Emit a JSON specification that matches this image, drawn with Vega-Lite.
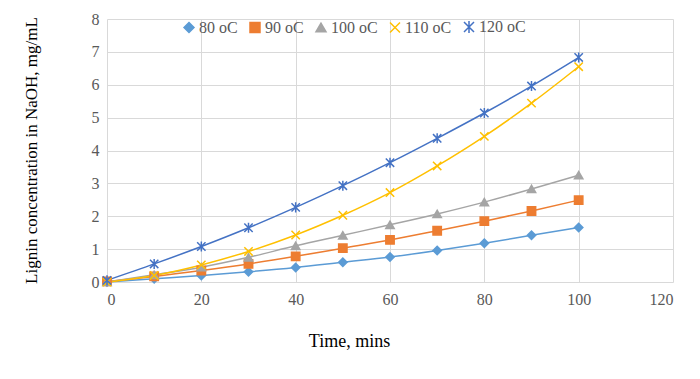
{
  "$schema": "https://vega.github.io/schema/vega-lite/v6.json",
  "width": 566,
  "height": 263,
  "autosize": {"type": "none"},
  "padding": {"left": 107, "top": 19, "right": 27, "bottom": 97},
  "background": "white",
  "config": {
    "font": "Liberation Serif",
    "view": {"stroke": null},
    "axis": {"labelFont": "Liberation Serif", "titleFont": "Liberation Serif", "labelColor": "#595959", "labelFontSize": 16, "titleColor": "#000000", "titleFontWeight": "normal", "gridColor": "#D9D9D9", "gridWidth": 1, "domain": false, "ticks": false},
    "legend": {"labelFont": "Liberation Serif", "labelFontSize": 16, "labelColor": "#595959"}
  },
  "data": {
    "values": [
      {"t": 0, "s": "80 oC", "v": 0.0}, {"t": 10, "s": "80 oC", "v": 0.1}, {"t": 20, "s": "80 oC", "v": 0.2}, {"t": 30, "s": "80 oC", "v": 0.31}, {"t": 40, "s": "80 oC", "v": 0.44}, {"t": 50, "s": "80 oC", "v": 0.6}, {"t": 60, "s": "80 oC", "v": 0.76}, {"t": 70, "s": "80 oC", "v": 0.96}, {"t": 80, "s": "80 oC", "v": 1.18}, {"t": 90, "s": "80 oC", "v": 1.42}, {"t": 100, "s": "80 oC", "v": 1.66},
      {"t": 0, "s": "90 oC", "v": 0.02}, {"t": 10, "s": "90 oC", "v": 0.17}, {"t": 20, "s": "90 oC", "v": 0.35}, {"t": 30, "s": "90 oC", "v": 0.55}, {"t": 40, "s": "90 oC", "v": 0.78}, {"t": 50, "s": "90 oC", "v": 1.03}, {"t": 60, "s": "90 oC", "v": 1.28}, {"t": 70, "s": "90 oC", "v": 1.56}, {"t": 80, "s": "90 oC", "v": 1.85}, {"t": 90, "s": "90 oC", "v": 2.16}, {"t": 100, "s": "90 oC", "v": 2.49},
      {"t": 0, "s": "100 oC", "v": 0.0}, {"t": 10, "s": "100 oC", "v": 0.22}, {"t": 20, "s": "100 oC", "v": 0.45}, {"t": 30, "s": "100 oC", "v": 0.75}, {"t": 40, "s": "100 oC", "v": 1.1}, {"t": 50, "s": "100 oC", "v": 1.42}, {"t": 60, "s": "100 oC", "v": 1.74}, {"t": 70, "s": "100 oC", "v": 2.07}, {"t": 80, "s": "100 oC", "v": 2.43}, {"t": 90, "s": "100 oC", "v": 2.83}, {"t": 100, "s": "100 oC", "v": 3.25},
      {"t": 0, "s": "110 oC", "v": 0.0}, {"t": 10, "s": "110 oC", "v": 0.2}, {"t": 20, "s": "110 oC", "v": 0.52}, {"t": 30, "s": "110 oC", "v": 0.93}, {"t": 40, "s": "110 oC", "v": 1.43}, {"t": 50, "s": "110 oC", "v": 2.03}, {"t": 60, "s": "110 oC", "v": 2.72}, {"t": 70, "s": "110 oC", "v": 3.53}, {"t": 80, "s": "110 oC", "v": 4.43}, {"t": 90, "s": "110 oC", "v": 5.44}, {"t": 100, "s": "110 oC", "v": 6.55},
      {"t": 0, "s": "120 oC", "v": 0.05}, {"t": 10, "s": "120 oC", "v": 0.55}, {"t": 20, "s": "120 oC", "v": 1.08}, {"t": 30, "s": "120 oC", "v": 1.65}, {"t": 40, "s": "120 oC", "v": 2.27}, {"t": 50, "s": "120 oC", "v": 2.93}, {"t": 60, "s": "120 oC", "v": 3.63}, {"t": 70, "s": "120 oC", "v": 4.37}, {"t": 80, "s": "120 oC", "v": 5.14}, {"t": 90, "s": "120 oC", "v": 5.96}, {"t": 100, "s": "120 oC", "v": 6.83}
    ]
  },
  "encoding": {
    "x": {"field": "t", "type": "quantitative", "scale": {"domain": [0, 120], "nice": false}, "axis": {"values": [0, 20, 40, 60, 80, 100, 120], "title": "Time, mins", "titleFont": "Liberation Serif", "labelFont": "Liberation Serif", "titleFontSize": 18, "labelPadding": 9, "titleX": 242, "titleY": 59, "titleBaseline": "middle", "titleAnchor": null}},
    "y": {"field": "v", "type": "quantitative", "scale": {"domain": [0, 8], "nice": false}, "axis": {"values": [0, 1, 2, 3, 4, 5, 6, 7, 8], "title": "Lignin concentration in NaOH, mg/mL", "titleFont": "Liberation Serif", "labelFont": "Liberation Serif", "titleFontSize": 17, "labelPadding": 8, "titleX": -76, "titleY": 131, "titleBaseline": "middle", "titleAngle": -90}},
    "color": {"field": "s", "type": "nominal", "sort": ["80 oC", "90 oC", "100 oC", "110 oC", "120 oC"], "scale": {"domain": ["80 oC", "90 oC", "100 oC", "110 oC", "120 oC"], "range": ["#5B9BD5", "#ED7D31", "#A5A5A5", "#FFC000", "#4472C4"]}, "legend": {"title": null, "orient": "none", "direction": "horizontal", "legendX": 74, "legendY": 0, "columnPadding": 9, "symbolStrokeWidth": 1.5, "labelOffset": 2, "labelFont": "Liberation Serif"}}
  },
  "layer": [
    {"mark": {"type": "line", "interpolate": "monotone", "strokeWidth": 1.5}},
    {
      "mark": {"type": "point", "filled": false, "strokeWidth": 1.5, "opacity": 1},
      "encoding": {
        "fill": {"field": "s", "type": "nominal", "scale": {"domain": ["80 oC", "90 oC", "100 oC", "110 oC", "120 oC"], "range": ["#5B9BD5", "#ED7D31", "#A5A5A5", "transparent", "transparent"]}, "legend": {"title": null, "orient": "none", "direction": "horizontal", "legendX": 74, "legendY": 0, "labelFont": "Liberation Serif"}},
        "shape": {"field": "s", "type": "nominal", "scale": {"domain": ["80 oC", "90 oC", "100 oC", "110 oC", "120 oC"], "range": ["diamond", "square", "triangle-up", "M-1,-1L1,1M-1,1L1,-1", "M-1,-1L1,1M-1,1L1,-1M0,-1.2L0,1.2"]}, "legend": {"title": null, "orient": "none", "direction": "horizontal", "legendX": 74, "legendY": 0, "labelFont": "Liberation Serif"}},
        "size": {"value": 70}
      }
    }
  ]
}
